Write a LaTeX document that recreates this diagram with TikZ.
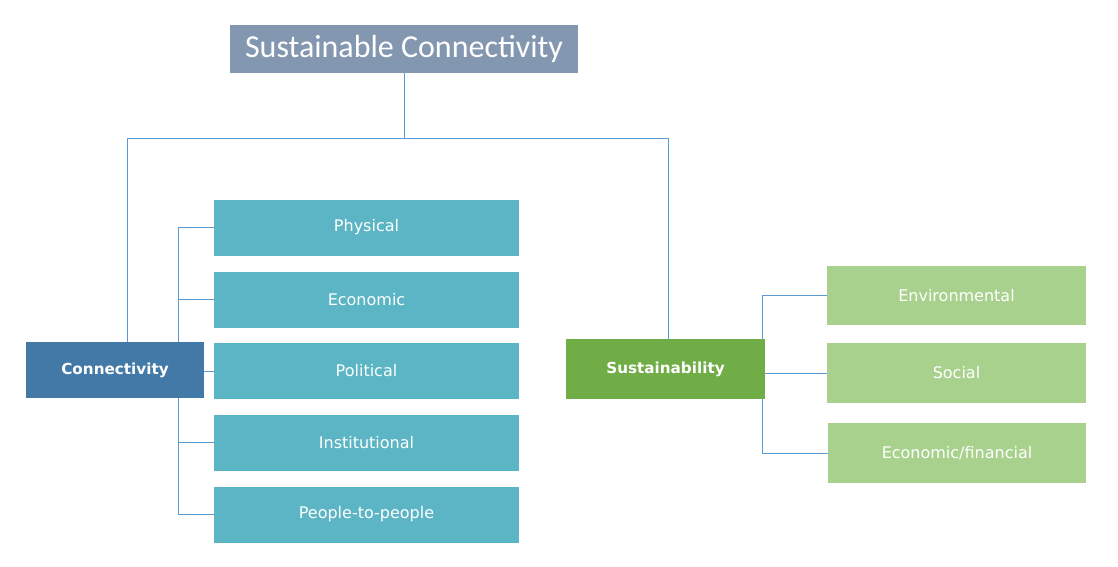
\documentclass[tikz,border=0pt]{standalone}
\usepackage{fontspec}
\setmainfont{DejaVu Sans}
\newfontfamily\titlefont{Carlito}
\usetikzlibrary{backgrounds}
\definecolor{titlegray}{HTML}{8497B0}
\definecolor{connblue}{HTML}{4379A7}
\definecolor{conncyan}{HTML}{5BB5C4}
\definecolor{sustgreen}{HTML}{70AD47}
\definecolor{sustlight}{HTML}{A9D18E}
\definecolor{linkblue}{HTML}{5B9BD5}
\begin{document}
\begin{tikzpicture}[x=1pt,y=-1pt,font=\fontsize{16}{19}\selectfont,line join=round]
\tikzset{
  box/.style 2 args={rectangle,inner sep=0pt,text=white,minimum width=#1,minimum height=#2},
  link/.style={draw=linkblue,line width=0.8pt}
}
\useasboundingbox (0,0) rectangle (1118,566);
% top
\node[box={348pt}{48pt},fill=titlegray,font=\titlefont\fontsize{32}{36}\selectfont] (title) at (404,49) {Sustainable Connectivity};
\coordinate (bus) at (0,138);
% connectivity branch
\node[box={178pt}{56pt},fill=connblue,font=\bfseries\fontsize{15.2}{18}\selectfont] (conn) at (115,370) {Connectivity};
\foreach \n/\t/\y in {phys/Physical/227.5,econ/Economic/299.5,pol/Political/371,inst/Institutional/442.5,ppl/People-to-people/514.5}
  \node[box={305pt}{56pt},fill=conncyan] (\n) at (366.5,\y) {\t};
% sustainability branch
\node[box={199pt}{60pt},fill=sustgreen,font=\bfseries\fontsize{15.2}{18}\selectfont] (sust) at (665.5,369) {Sustainability};
\node[box={259pt}{59pt},fill=sustlight] (env) at (956.5,295.5) {Environmental};
\node[box={259pt}{60pt},fill=sustlight] (soc) at (956.5,373) {Social};
\node[box={258pt}{60pt},fill=sustlight] (fin) at (957,453) {Economic/financial};
\begin{scope}[on background layer]
\draw[link] (title.south) -- (title.south |- bus) -| ([xshift=12pt]conn.north);
\draw[link] (title.south |- bus) -| ([xshift=2.5pt]sust.north);
\draw[link] ([xshift=-26pt]conn.east |- phys.west) -- ([xshift=-26pt]conn.east |- ppl.west);
\foreach \n in {phys,econ,inst,ppl}
  \draw[link] ([xshift=-26pt]conn.east |- \n.west) -- (\n.west);
\draw[link] (conn.east |- pol.west) -- (pol.west);
\draw[link] ([xshift=-3pt]sust.east |- env.west) -- ([xshift=-3pt]sust.east |- fin.west);
\foreach \n in {env,fin}
  \draw[link] ([xshift=-3pt]sust.east |- \n.west) -- (\n.west);
\draw[link] (sust.east |- soc.west) -- (soc.west);
\end{scope}
\end{tikzpicture}
\end{document}
